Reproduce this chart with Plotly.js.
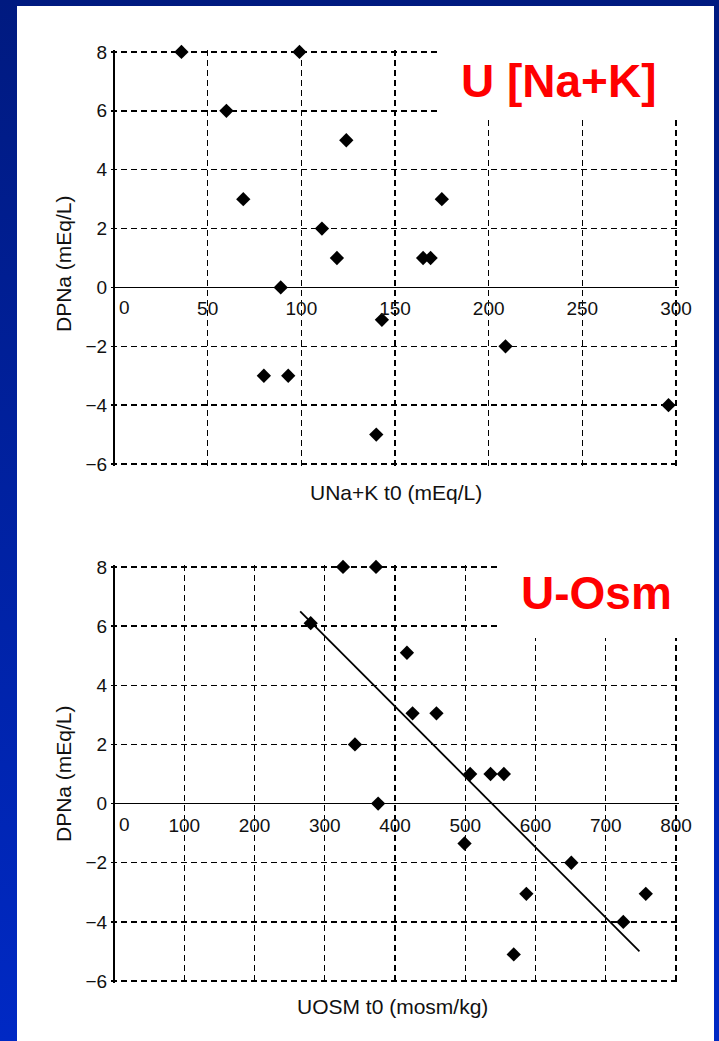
<!DOCTYPE html>
<html><head><meta charset="utf-8">
<script src="https://cdn.plot.ly/plotly-3.0.1.min.js"></script>
<style>
html,body{margin:0;padding:0;}
body{width:719px;height:1041px;background:linear-gradient(to bottom,#001a80,#0029c4);position:relative;overflow:hidden;}
#panel{position:absolute;left:17px;top:6px;width:697px;height:1035px;background:#fff;}
#chart{position:absolute;left:0;top:0;width:719px;height:1041px;}
</style></head><body><div id="panel"></div><div id="chart"></div>
<script>
// ---- data ----
const naK_x = [36, 99, 60, 69, 124, 111, 119, 89, 143, 165, 169, 175, 80, 93, 140, 209, 296];
const naK_y = [8, 8, 6, 3, 5, 2, 1, 0, -1.1, 1, 1, 3, -3, -3, -5, -2, -4];
const osm_x = [326, 373, 280, 417, 425, 459, 343, 376, 507, 536, 555, 499, 651, 587, 757, 725, 569];
const osm_y = [8, 8, 6.1, 5.1, 3.05, 3.05, 2, 0, 1, 1, 1, -1.35, -2, -3.05, -3.05, -4, -5.1];
const fit_x = [265, 748];
const fit_y = [6.5, -5.0];
const naK_ticks = [0, 50, 100, 150, 200, 250, 300];
const naK_ticktext = ['0', '50', '100', '150', '200', '250', '300'];
const osm_ticks = [0, 100, 200, 300, 400, 500, 600, 700, 800];
const osm_ticktext = ['0', '100', '200', '300', '400', '500', '600', '700', '800'];
const y_ticks = [-6, -4, -2, 0, 2, 4, 6, 8];
const y_ticktext = ['\u22126', '\u22124', '\u22122', '0', '2', '4', '6', '8'];
const titles = {top: 'U [Na+K]', bottom: 'U-Osm'};
const xTitles = {top: 'UNa+K t0 (mEq/L)', bottom: 'UOSM t0 (mosm/kg)'};
const yTitle = 'DPNa (mEq/L)';

// ---- layout helpers ----
const W = 719, H = 1041;
const px = v => v / W;
const py = v => 1 - v / H;
const yRange = [-6.08, 8.08];
const topYDom = [py(466.4), py(49.6)];
const botYDom = [py(983.4), py(564.6)];
const xDom = [px(111.2), px(678.8)];
const zeroPos = dom => dom[0] + (0 - yRange[0]) / (yRange[1] - yRange[0]) * (dom[1] - dom[0]);

const tickFont = {family: 'Arial, Liberation Sans, sans-serif', size: 19, color: '#111'};
const gridCommon = {showgrid: true, gridcolor: '#000', gridwidth: 1.4, griddash: '6px,4px',
  ticks: '', showline: false, zeroline: true, zerolinecolor: '#000', fixedrange: true, tickfont: tickFont};

// tick "0" of each x axis is drawn as an annotation just right of the y axis (as in the reference)
function xAxis(range, ticks, text, dom) {
  return Object.assign({}, gridCommon, {domain: xDom, range: range, tickmode: 'array',
    tickvals: ticks.slice(1), ticktext: text.slice(1),
    anchor: 'free', position: zeroPos(dom), zerolinewidth: 2, ticklabelstandoff: 8});
}
function yAxis(dom, anchor) {
  return Object.assign({}, gridCommon, {domain: dom, range: yRange, tickmode: 'array', tickvals: y_ticks, ticktext: y_ticktext,
    anchor: anchor, zerolinewidth: 1.6, ticklabelstandoff: 3});
}

const marker = {symbol: 'diamond', size: 11, color: '#000'};
const traces = [
  {x: naK_x, y: naK_y, xaxis: 'x', yaxis: 'y', type: 'scatter', mode: 'markers', marker: marker, cliponaxis: false},
  {x: osm_x, y: osm_y, xaxis: 'x2', yaxis: 'y2', type: 'scatter', mode: 'markers', marker: marker, cliponaxis: false},
  {x: fit_x, y: fit_y, xaxis: 'x2', yaxis: 'y2', type: 'scatter', mode: 'lines', line: {color: '#000', width: 1.8}}
];

const axTitleFont = {family: 'Arial, Liberation Sans, sans-serif', size: 21, color: '#111'};
const redFont = {family: 'Arial, Liberation Sans, sans-serif', size: 46, color: '#ff0000', weight: 'bold'};

const zeroLabel = (xr, yr, t, v) => ({text: t, xref: xr, yref: yr, x: v, y: 0, xanchor: 'left', yanchor: 'top',
  xshift: 3, yshift: -8, showarrow: false, font: tickFont});

const layout = {
  width: W, height: H, margin: {l: 0, r: 0, t: 0, b: 0},
  paper_bgcolor: 'rgba(0,0,0,0)', plot_bgcolor: 'rgba(0,0,0,0)', showlegend: false,
  xaxis: xAxis([-1.5, 301.5], naK_ticks, naK_ticktext, topYDom),
  yaxis: yAxis(topYDom, 'x'),
  xaxis2: xAxis([-4, 804], osm_ticks, osm_ticktext, botYDom),
  yaxis2: yAxis(botYDom, 'x2'),
  shapes: [
    {type: 'rect', xref: 'x', yref: 'y', x0: 174, x1: 310, y0: 5.7, y1: 8.6, fillcolor: '#fff', line: {width: 0}, layer: 'above'},
    {type: 'rect', xref: 'x2', yref: 'y2', x0: 549, x1: 820, y0: 5.6, y1: 8.6, fillcolor: '#fff', line: {width: 0}, layer: 'above'}
  ],
  annotations: [
    zeroLabel('x', 'y', naK_ticktext[0], naK_ticks[0]),
    zeroLabel('x2', 'y2', osm_ticktext[0], osm_ticks[0]),
    {text: titles.top, xref: 'paper', yref: 'paper', x: px(559), y: py(81), xanchor: 'center', yanchor: 'middle', showarrow: false, font: redFont},
    {text: titles.bottom, xref: 'paper', yref: 'paper', x: px(596), y: py(593), xanchor: 'center', yanchor: 'middle', showarrow: false, font: redFont},
    {text: xTitles.top, xref: 'paper', yref: 'paper', x: px(396), y: py(492), xanchor: 'center', yanchor: 'middle', showarrow: false, font: axTitleFont},
    {text: xTitles.bottom, xref: 'paper', yref: 'paper', x: px(392), y: py(1007), xanchor: 'center', yanchor: 'middle', showarrow: false, font: axTitleFont},
    {text: yTitle, xref: 'paper', yref: 'paper', x: px(63), y: py(264), xanchor: 'center', yanchor: 'middle', textangle: -90, showarrow: false, font: axTitleFont},
    {text: yTitle, xref: 'paper', yref: 'paper', x: px(63), y: py(774), xanchor: 'center', yanchor: 'middle', textangle: -90, showarrow: false, font: axTitleFont}
  ]
};

Plotly.newPlot('chart', traces, layout, {staticPlot: true, displayModeBar: false});
</script>
</body></html>
